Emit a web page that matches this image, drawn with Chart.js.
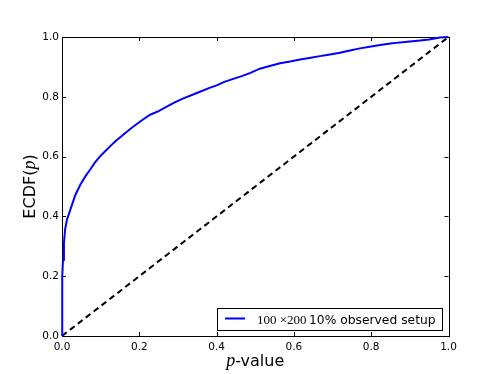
<!DOCTYPE html>
<html>
<head>
<meta charset="utf-8">
<script src="https://cdn.jsdelivr.net/npm/chart.js@4.4.1/dist/chart.umd.min.js"></script>
<style>
html,body{margin:0;padding:0;background:#fff;}
#wrap{width:498px;height:374px;}
</style>
</head>
<body>
<div id="wrap"><canvas id="c" width="498" height="374"></canvas></div>
<script>
// p-values (x) and ECDF values (y)
const pValues = [0, 0.0004, 0.0008, 0.0026, 0.005, 0.0078, 0.013, 0.021, 0.034, 0.047, 0.06, 0.072, 0.085, 0.098, 0.111, 0.125, 0.139, 0.163, 0.184, 0.205, 0.228, 0.25, 0.271, 0.293, 0.314, 0.336, 0.357, 0.38, 0.40, 0.42, 0.443, 0.465, 0.486, 0.512, 0.54, 0.564, 0.59, 0.616, 0.64, 0.667, 0.69, 0.719, 0.745, 0.771, 0.8, 0.823, 0.85, 0.875, 0.9, 0.926, 0.95, 0.978, 1.0];
const ecdfValues = [0, 0.12, 0.2, 0.254, 0.31, 0.355, 0.39, 0.42, 0.47, 0.505, 0.533, 0.555, 0.58, 0.60, 0.617, 0.635, 0.652, 0.678, 0.700, 0.72, 0.74, 0.752, 0.767, 0.782, 0.795, 0.806, 0.817, 0.829, 0.838, 0.85, 0.86, 0.869, 0.879, 0.894, 0.904, 0.912, 0.918, 0.925, 0.93, 0.936, 0.941, 0.947, 0.955, 0.962, 0.968, 0.973, 0.978, 0.982, 0.985, 0.988, 0.992, 0.998, 1.0];
const diagX = [0, 1];
const diagY = [0, 1];
const tickValues = [0, 0.2, 0.4, 0.6, 0.8, 1.0];
const legendMath = "100 \u00d7200";
const legendText = "10% observed setup";

const curve = pValues.map((p, i) => ({x: p, y: ecdfValues[i]}));
const diag = diagX.map((p, i) => ({x: p, y: diagY[i]}));

const framePlugin = {
  id: 'frame',
  beforeDatasetsDraw(chart) {
    const ctx = chart.ctx;
    const a = chart.chartArea;
    const xs = chart.scales.x, ys = chart.scales.y;
    ctx.save();
    ctx.strokeStyle = '#000';
    ctx.lineWidth = 1;
    ctx.strokeRect(Math.round(a.left) + 0.5, Math.round(a.top) + 0.5, Math.round(a.right - a.left), Math.round(a.bottom - a.top));
    const tl = 4;
    ctx.beginPath();
    tickValues.forEach(v => {
      const px = Math.round(xs.getPixelForValue(v)) + 0.5;
      ctx.moveTo(px, a.bottom); ctx.lineTo(px, a.bottom - tl);
      ctx.moveTo(px, a.top); ctx.lineTo(px, a.top + tl);
      const py = Math.round(ys.getPixelForValue(v)) + 0.5;
      ctx.moveTo(a.left, py); ctx.lineTo(a.left + tl, py);
      ctx.moveTo(a.right, py); ctx.lineTo(a.right - tl, py);
    });
    ctx.stroke();
    ctx.restore();
  },
  afterDraw(chart) {
    const ctx = chart.ctx;
    const a = chart.chartArea;
    ctx.save();
    // x axis title: p-value
    ctx.fillStyle = '#000';
    ctx.textBaseline = 'alphabetic';
    const cx = (a.left + a.right) / 2;
    ctx.font = 'italic 18px "Liberation Serif"';
    const wp = ctx.measureText('p').width;
    ctx.font = '16px "DejaVu Sans"';
    const wr = ctx.measureText('-value').width;
    let sx = cx - (wp + wr) / 2;
    ctx.font = 'italic 18px "Liberation Serif"';
    ctx.textAlign = 'left';
    ctx.fillText('p', sx, 366);
    ctx.font = '16px "DejaVu Sans"';
    ctx.fillText('-value', sx + wp, 366);

    // y axis title: ECDF(p)
    ctx.save();
    ctx.translate(35, (a.top + a.bottom) / 2);
    ctx.rotate(-Math.PI / 2);
    ctx.font = '16px "DejaVu Sans"';
    const w1 = ctx.measureText('ECDF(').width;
    const w3 = ctx.measureText(')').width;
    ctx.font = 'italic 18px "Liberation Serif"';
    const w2 = ctx.measureText('p').width;
    let yx = -(w1 + w2 + w3) / 2;
    ctx.font = '16px "DejaVu Sans"';
    ctx.fillText('ECDF(', yx, 0);
    ctx.font = 'italic 18px "Liberation Serif"';
    ctx.fillText('p', yx + w1, 0);
    ctx.font = '16px "DejaVu Sans"';
    ctx.fillText(')', yx + w1 + w2, 0);
    ctx.restore();

    // legend
    const lx = 217.5, ly = 308.5, lw = 225, lh = 22;
    ctx.fillStyle = '#fff';
    ctx.fillRect(lx, ly, lw, lh);
    ctx.strokeStyle = '#000';
    ctx.lineWidth = 1;
    ctx.strokeRect(lx, ly, lw, lh);
    ctx.strokeStyle = '#0000ff';
    ctx.lineWidth = 2;
    ctx.beginPath();
    ctx.moveTo(225, 318.5); ctx.lineTo(245, 318.5);
    ctx.stroke();
    ctx.fillStyle = '#000';
    ctx.textBaseline = 'alphabetic';
    ctx.font = '13px "Liberation Serif"';
    ctx.fillText(legendMath, 257, 323.5);
    ctx.font = '12.3px "DejaVu Sans"';
    ctx.fillText(legendText, 309, 323.5);
    ctx.restore();
  }
};

new Chart(document.getElementById('c'), {
  type: 'scatter',
  data: {
    datasets: [
      {data: curve, showLine: true, borderColor: '#0000ff', borderWidth: 2, pointRadius: 0, tension: 0, fill: false, clip: 2},
      {data: diag, showLine: true, borderColor: '#000', borderWidth: 2, borderDash: [6, 4], pointRadius: 0, tension: 0, fill: false, clip: 2}
    ]
  },
  options: {
    responsive: false,
    animation: false,
    devicePixelRatio: 1,
    layout: {padding: {top: 37, right: 49.5, left: 0, bottom: 0}},
    plugins: {legend: {display: false}, tooltip: {enabled: false}},
    scales: {
      x: {
        type: 'linear', min: 0, max: 1,
        afterFit(s) { s.height = 38; },
        afterBuildTicks(s) { s.ticks = tickValues.map(v => ({value: v})); },
        grid: {display: false, drawTicks: false},
        border: {display: false},
        ticks: {padding: 5, color: '#000', font: {family: 'DejaVu Sans', size: 10.5}, callback: v => Number(v).toFixed(1), maxRotation: 0}
      },
      y: {
        type: 'linear', min: 0, max: 1,
        afterFit(s) { s.width = 62; },
        afterBuildTicks(s) { s.ticks = tickValues.map(v => ({value: v})); },
        grid: {display: false, drawTicks: false},
        border: {display: false},
        ticks: {padding: 3, color: '#000', font: {family: 'DejaVu Sans', size: 10.5}, callback: v => Number(v).toFixed(1)}
      }
    }
  },
  plugins: [framePlugin]
});
</script>
</body>
</html>
